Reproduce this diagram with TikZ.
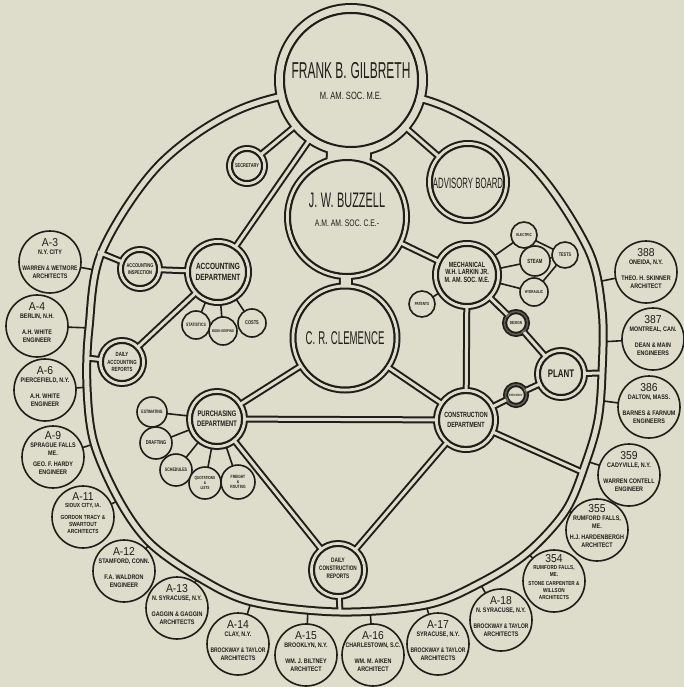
\documentclass[tikz,border=0pt]{standalone}
\usepackage{fontspec}
\usepackage{graphicx}
\newfontfamily\tallf{Liberation Sans}[FakeStretch=0.52]
\newfontfamily\labf{Liberation Sans}[FakeStretch=0.72]
\newfontfamily\bodf{Liberation Sans}[FakeStretch=0.82]
\newfontfamily\numf{Liberation Sans}[FakeStretch=0.9]
\definecolor{bg}{RGB}{222,220,203}
\definecolor{ink}{RGB}{30,30,26}
\definecolor{dgray}{RGB}{95,93,86}
\newcommand\bodyfont[2]{\labf\bfseries\fontsize{#1}{#2}\selectfont}
\newcommand\outfont[2]{\bodf\bfseries\fontsize{#1}{#2}\selectfont}
\newcommand\tallfont[2]{\tallf\fontsize{#1}{#2}\selectfont}
\newsavebox\fitbox
\newcommand\fl[1]{\sbox\fitbox{#1}\ifdim\wd\fitbox>55pt\relax\resizebox{55pt}{\height}{\usebox\fitbox}\else\usebox\fitbox\fi}
\newcommand\pipeset{%
\draw[pr] plot[smooth cycle, tension=0.55] coordinates {(345,88) (443,106) (530,164) (587,247) (602,310) (602,373) (598,420) (586,462) (566,510) (527,553) (480,583) (426,605) (340,612) (252,602) (198,577) (150,543) (119,500) (94,443) (87,387) (89,328) (102,251) (160,164) (243,108)};
\draw[pg] (G) -- (B);
\draw[pk] (B) -- (C);
\draw[pn] (G) -- (Sec);
\draw[pn] (G) -- (Acc);
\draw[pn] (G) -- (Adv);
\draw[pn] (B) -- (Mech);
\draw[pn] (C) -- (Pur);
\draw[pn] (C) -- (Con);
\draw[pn] (Pur) -- (Con);
\draw[pn] (Pur) -- (DCR);
\draw[pn] (Con) -- (DCR);
\draw[pn] (DCR) -- (rDCR);
\draw[pn] (Con) -- (rCon);
\draw[pn] (Mech) -- (Con);
\draw[pn] (Mech) -- (Des);
\draw[pn] (Des) -- (Plant);
\draw[pn] (Plant) -- (Eff);
\draw[pn] (Eff) -- (Con);
\draw[pn] (Plant) -- (rPlant);
\draw[pn] (Acc) -- (Insp);
\draw[pn] (Insp) -- (rInsp);
\draw[pn] (Acc) -- (DAR);
\draw[pn] (DAR) -- (rDAR);
\draw[pw] (G) circle[radius=71.5pt];
\draw[pn] (B) circle[radius=59.5pt];
\draw[pn] (C) circle[radius=52pt];
\draw[pn] (Sec) circle[radius=17.5pt];
\draw[pn] (Adv) circle[radius=38.5pt];
\draw[pn] (Acc) circle[radius=30.5pt];
\draw[pn] (Insp) circle[radius=19.5pt];
\draw[pn] (DAR) circle[radius=21.5pt];
\draw[pn] (Pur) circle[radius=27.5pt];
\draw[pn] (Con) circle[radius=29.5pt];
\draw[pn] (DCR) circle[radius=26.5pt];
\draw[pn] (Mech) circle[radius=31.5pt];
\draw[pn] (Plant) circle[radius=23.5pt];
\draw[pd] (Des) circle[radius=11.5pt];
\draw[pd] (Eff) circle[radius=10.5pt];
}
\newcommand\outc[6]{%
  \node[sc, minimum size=62pt] (#1) at (#2) {};
  \node[numl] (#1-n) at ([yshift=#5]#2) {#3};
  \node[bodyl, anchor=north, #6] (#1-b) at ([yshift=12.5pt]#2) {#4};
}
\begin{document}
\begin{tikzpicture}[x=1pt,y=-1pt,
  sc/.style={circle, draw=ink, fill=bg, line width=1.6pt, inner sep=0pt, align=center, text=ink},
  lk/.style={draw=ink, line width=1.6pt},
  inl/.style={draw=ink, fill=bg, line width=2pt},
  lab/.style={align=center, inner sep=0pt, text=ink, font=\bodyfont{8}{9.5}},
  numl/.style={inner sep=0pt, text=ink, font=\numf\fontsize{11.5}{12}\selectfont},
  bodyl/.style={align=center, inner sep=0pt, text=ink, font=\outfont{6.6}{8}}]
\useasboundingbox (0,0) rectangle (684,687);
\fill[bg] (0,0) rectangle (684,687);
% ---- centres of the double circles
\coordinate (G) at (351,80);
\coordinate (B) at (347,217);
\coordinate (C) at (345,338);
\coordinate (Sec) at (247,166);
\coordinate (Adv) at (468,182);
\coordinate (Acc) at (218,272);
\coordinate (Insp) at (140,269);
\coordinate (DAR) at (122,362);
\coordinate (Pur) at (217,419);
\coordinate (Con) at (466,420);
\coordinate (DCR) at (338,570);
\coordinate (Mech) at (467,275);
\coordinate (Plant) at (561,374);
\coordinate (Des) at (516,323);
\coordinate (Eff) at (516,395);
% ---- small circles
\coordinate (Stat) at (196,325);
\coordinate (Book) at (223,331);
\coordinate (Cost) at (252,323);
\coordinate (Est) at (152,412);
\coordinate (Draft) at (156,443);
\coordinate (Sched) at (176,470);
\coordinate (Quot) at (205,483);
\coordinate (Frt) at (238,482);
\coordinate (Elec) at (524,235);
\coordinate (Steam) at (535,261);
\coordinate (Tests) at (565,255);
\coordinate (Hyd) at (534,292);
\coordinate (Pat) at (422,304);
% ---- outer circles
\coordinate (a3) at (50,262);
\coordinate (a4) at (37,326);
\coordinate (a6) at (45,390);
\coordinate (a9) at (53,457);
\coordinate (a11) at (83,517);
\coordinate (a12) at (124,571);
\coordinate (a13) at (177,608);
\coordinate (a14) at (238,644);
\coordinate (a15) at (306,655);
\coordinate (a16) at (373,655);
\coordinate (a17) at (438,644);
\coordinate (a18) at (501,620);
\coordinate (c354) at (554,581);
\coordinate (c355) at (597,530);
\coordinate (c359) at (629,475);
\coordinate (c386) at (649,407);
\coordinate (c387) at (653,339);
\coordinate (c388) at (646,272);
% ---- points on the ring
\coordinate (rA3) at (95,270);
\coordinate (rA4) at (91,328);
\coordinate (rA6) at (90,387);
\coordinate (rA9) at (97,443);
\coordinate (rA11) at (122,499);
\coordinate (rA12) at (153,541);
\coordinate (rA13) at (200,575);
\coordinate (rA14) at (252,599);
\coordinate (rA15) at (308,607);
\coordinate (rA16) at (370,608);
\coordinate (rA17) at (425,602);
\coordinate (rA18) at (478,580);
\coordinate (r354) at (525,550);
\coordinate (r355) at (563,507);
\coordinate (r359) at (583,460);
\coordinate (r386) at (596,400);
\coordinate (r387) at (599,342);
\coordinate (r388) at (597,282);
\coordinate (rPlant) at (602,373);
\coordinate (rCon) at (582,472);
\coordinate (rDCR) at (340,612);
\coordinate (rInsp) at (98,252);
\coordinate (rDAR) at (87,358);
% ---- single connectors
\foreach \s in {Stat,Book,Cost} \draw[lk] (Acc) -- (\s);
\foreach \s in {Est,Draft,Sched,Quot,Frt} \draw[lk] (Pur) -- (\s);
\foreach \s in {Elec,Steam,Hyd,Pat} \draw[lk] (Mech) -- (\s);
\foreach \s in {Elec,Steam,Hyd} \draw[lk] (\s) -- (Tests);
\draw[lk] (a3) -- (rA3);
\draw[lk] (a4) -- (rA4);
\draw[lk] (a6) -- (rA6);
\draw[lk] (a9) -- (rA9);
\draw[lk] (a11) -- (rA11);
\draw[lk] (a12) -- (rA12);
\draw[lk] (a13) -- (rA13);
\draw[lk] (a14) -- (rA14);
\draw[lk] (a15) -- (rA15);
\draw[lk] (a16) -- (rA16);
\draw[lk] (a17) -- (rA17);
\draw[lk] (a18) -- (rA18);
\draw[lk] (c354) -- (r354);
\draw[lk] (c355) -- (r355);
\draw[lk] (c359) -- (r359);
\draw[lk] (c386) -- (r386);
\draw[lk] (c387) -- (r387);
\draw[lk] (c388) -- (r388);
% ---- pipes: dark pass, then light pass
\tikzset{pn/.style={draw=ink,line width=7pt}, pw/.style={draw=ink,line width=11pt},
  pr/.style={draw=ink,line width=9pt}, pk/.style={draw=ink,line width=14pt},
  pg/.style={draw=ink,line width=46pt}, pd/.style={draw=ink,line width=5pt}}
\pipeset
\tikzset{pn/.style={draw=bg,line width=3pt}, pw/.style={draw=bg,line width=7pt},
  pr/.style={draw=bg,line width=5pt}, pk/.style={draw=bg,line width=10pt},
  pg/.style={draw=bg,line width=42pt}, pd/.style={draw=dgray,line width=1.5pt}}
\pipeset
% ---- inner lines of the double circles
\draw[inl] (G) circle[radius=67pt];
\draw[inl] (B) circle[radius=57pt];
\draw[inl] (C) circle[radius=49.5pt];
\draw[inl] (Sec) circle[radius=15pt];
\draw[inl] (Adv) circle[radius=36pt];
\draw[inl] (Acc) circle[radius=28pt];
\draw[inl] (Insp) circle[radius=17pt];
\draw[inl] (DAR) circle[radius=19pt];
\draw[inl] (Pur) circle[radius=25pt];
\draw[inl] (Con) circle[radius=27pt];
\draw[inl] (DCR) circle[radius=24pt];
\draw[inl] (Mech) circle[radius=29pt];
\draw[inl] (Plant) circle[radius=21pt];
\draw[inl, line width=1.5pt] (Des) circle[radius=9.6pt];
\draw[inl, line width=1.5pt] (Eff) circle[radius=8.6pt];
% ---- texts of the double circles
\node[lab, font=\tallfont{23}{26}] (Gt) at (351,71) {FRANK B.\,GILBRETH};
\node[lab, font=\labf\fontsize{10.5}{12}\selectfont] (Gs) at (351,96) {M.\ AM.\ SOC.\ M.E.};
\node[lab, font=\tallfont{21}{24}] (Bt) at (347,200) {J.\,W.\,BUZZELL};
\node[lab, font=\labf\fontsize{9.5}{11}\selectfont] (Bs) at (347,223) {A.M.\ AM.\ SOC.\ C.E.-};
\node[lab, font=\tallfont{18.5}{21}] (Ct) at (345,338) {C.\,R.\,CLEMENCE};
\node[lab, font=\tallfont{15}{17}] (Advt) at (468,183) {ADVISORY BOARD};
\node[lab, font=\bodyfont{5.5}{6.5}] (Sect) at (Sec) {SECRETARY};
\node[lab, font=\bodyfont{9}{11}] (Acct) at (Acc) {ACCOUNTING\\DEPARTMENT};
\node[lab, font=\bodyfont{5.5}{7}] (Inspt) at (Insp) {ACCOUNTING\\INSPECTION};
\node[lab, font=\bodyfont{6}{7.2}] (DARt) at (DAR) {DAILY\\ACCOUNTING\\REPORTS};
\node[lab, font=\bodyfont{8}{10}] (Purt) at (Pur) {PURCHASING\\DEPARTMENT};
\node[lab, font=\bodyfont{7.5}{9.5}] (Cont) at (Con) {CONSTRUCTION\\DEPARTMENT};
\node[lab, font=\bodyfont{6.5}{7.8}] (DCRt) at (338,568) {DAILY\\CONSTRUCTION\\REPORTS};
\node[lab, font=\bodyfont{7.5}{8.5}] (Mecht) at (467,272) {MECHANICAL\\[-1pt]{W.H.\ LARKIN JR.}\\[-1pt]{M.\ AM.\ SOC.\ M.E.}};
\node[lab, font=\bodyfont{11}{12}] (Plantt) at (Plant) {PLANT};
\node[lab, font=\bodyfont{4.4}{5}] (Dest) at (Des) {DESIGN};
\node[lab, font=\bodyfont{3.1}{4}] (Efft) at (Eff) {EFFICIENCY};
% ---- small single circles
\node[sc, minimum size=28pt, font=\bodyfont{4.8}{6}] (StatN) at (Stat) {STATISTICS};
\node[sc, minimum size=28pt, font=\bodyfont{3.9}{5}] (BookN) at (Book) {BOOK-KEEPING};
\node[sc, minimum size=28pt, font=\bodyfont{5.5}{6}] (CostN) at (Cost) {COSTS};
\node[sc, minimum size=30pt, font=\bodyfont{4.8}{6}] (EstN) at (Est) {ESTIMATING};
\node[sc, minimum size=32pt, font=\bodyfont{5.5}{6}] (DraftN) at (Draft) {DRAFTING};
\node[sc, minimum size=32pt, font=\bodyfont{5}{6}] (SchedN) at (Sched) {SCHEDULES};
\node[sc, minimum size=32pt, font=\bodyfont{4.4}{5.2}] (QuotN) at (Quot) {QUOTATIONS\\\&\\LISTS};
\node[sc, minimum size=34pt, font=\bodyfont{4.6}{5.4}] (FrtN) at (Frt) {FREIGHT\\\&\\ROUTING};
\node[sc, minimum size=26pt, font=\bodyfont{4.3}{5}] (ElecN) at (Elec) {ELECTRIC};
\node[sc, minimum size=30pt, font=\bodyfont{6}{7}] (SteamN) at (Steam) {STEAM};
\node[sc, minimum size=26pt, font=\bodyfont{5.3}{6}] (TestsN) at (Tests) {TESTS};
\node[sc, minimum size=28pt, font=\bodyfont{4.3}{5}] (HydN) at (Hyd) {HYDRAULIC};
\node[sc, minimum size=26pt, font=\bodyfont{4.4}{5}] (PatN) at (Pat) {PATENTS};
% ---- outer circles
\outc{A3}{a3}{A-3}{\fl{N.Y.\ CITY}\\[8pt]\fl{WARREN \& WETMORE}\\\fl{ARCHITECTS}}{19.5pt}{}
\outc{A4}{a4}{A-4}{\fl{BERLIN, N.H.}\\[8pt]\fl{A.H.\ WHITE}\\\fl{ENGINEER}}{19.5pt}{}
\outc{A6}{a6}{A-6}{\fl{PIERCEFIELD, N.Y.}\\[8pt]\fl{A.H.\ WHITE}\\\fl{ENGINEER}}{19.5pt}{}
\outc{A9}{a9}{A-9}{\fl{SPRAGUE FALLS}\\ME.\\[3pt]\fl{GEO.\ F.\ HARDY}\\\fl{ENGINEER}}{21pt}{yshift=2pt}
\outc{A11}{a11}{A-11}{\fl{SIOUX CITY, IA.}\\[5pt]\fl{GORDON TRACY \&}\\\fl{SWARTOUT}\\\fl{ARCHITECTS}}{20pt}{yshift=1pt, font=\outfont{5.9}{7}}
\outc{A12}{a12}{A-12}{\fl{STAMFORD, CONN.}\\[8pt]\fl{F.A.\ WALDRON}\\\fl{ENGINEER}}{19.5pt}{}
\outc{A13}{a13}{A-13}{\fl{N.\ SYRACUSE, N.Y.}\\[8pt]\fl{GAGGIN \& GAGGIN}\\\fl{ARCHITECTS}}{19.5pt}{}
\outc{A14}{a14}{A-14}{\fl{CLAY, N.Y.}\\[8pt]\fl{BROCKWAY \& TAYLOR}\\\fl{ARCHITECTS}}{19.5pt}{}
\outc{A15}{a15}{A-15}{\fl{BROOKLYN, N.Y.}\\[8pt]\fl{WM.\ J.\ BILTNEY}\\\fl{ARCHITECT}}{19.5pt}{}
\outc{A16}{a16}{A-16}{\fl{CHARLESTOWN, S.C.}\\[8pt]\fl{WM.\ M.\ AIKEN}\\\fl{ARCHITECT}}{19.5pt}{}
\outc{A17}{a17}{A-17}{\fl{SYRACUSE, N.Y.}\\[8pt]\fl{BROCKWAY \& TAYLOR}\\\fl{ARCHITECTS}}{19.5pt}{}
\outc{A18}{a18}{A-18}{\fl{N.\ SYRACUSE, N.Y.}\\[8pt]\fl{BROCKWAY \& TAYLOR}\\\fl{ARCHITECTS}}{19.5pt}{}
\outc{C354}{c354}{354}{\fl{RUMFORD FALLS,}\\ME.\\[3pt]\fl{STONE CARPENTER \&}\\\fl{WILLSON}\\\fl{ARCHITECTS}}{22pt}{yshift=3pt, font=\outfont{5.7}{6.6}}
\outc{C355}{c355}{355}{\fl{RUMFORD FALLS,}\\ME.\\[3pt]\fl{H.J.\ HARDENBERGH}\\\fl{ARCHITECT}}{21pt}{yshift=2pt}
\outc{C359}{c359}{359}{\fl{CADYVILLE, N.Y.}\\[8pt]\fl{WARREN CONTELL}\\\fl{ENGINEER}}{19.5pt}{}
\outc{C386}{c386}{386}{\fl{DALTON, MASS.}\\[8pt]\fl{BARNES \& FARNUM}\\\fl{ENGINEERS}}{19.5pt}{}
\outc{C387}{c387}{387}{\fl{MONTREAL, CAN.}\\[8pt]\fl{DEAN \& MAIN}\\\fl{ENGINEERS}}{19.5pt}{}
\outc{C388}{c388}{388}{\fl{ONEIDA, N.Y.}\\[8pt]\fl{THEO.\ H.\ SKINNER}\\\fl{ARCHITECT}}{19.5pt}{}
\end{tikzpicture}
\end{document}
